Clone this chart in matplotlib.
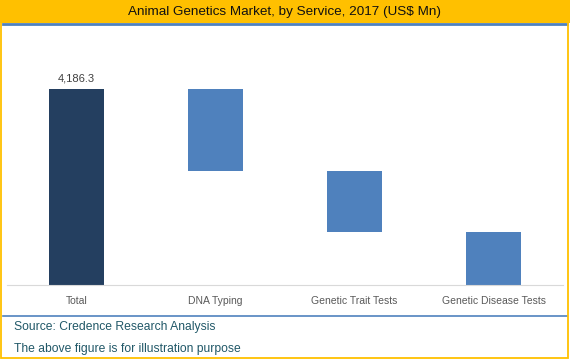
import matplotlib.pyplot as plt
from matplotlib.patches import Rectangle
from matplotlib.lines import Line2D

# data
categories = ['Total', 'DNA Typing', 'Genetic Trait Tests', 'Genetic Disease Tests']
total = 4186.3
segments = [1745.0, 1303.0, 1138.3]

plt.rcParams['font.family'] = ['Liberation Sans', 'DejaVu Sans']

W, H = 570, 359
fig = plt.figure(figsize=(W / 100, H / 100), dpi=100)

def fy(py):
    return 1 - py / H

# header bar
fig.patches.append(Rectangle((0, fy(23)), 1, 23 / H, transform=fig.transFigure,
                             facecolor='#FFC000', edgecolor='none', zorder=0))
fig.lines.append(Line2D([0.005, 0.995], [fy(24), fy(24)], transform=fig.transFigure,
                        color='#4F81BD', lw=2))
fig.text(0.5, fy(12), 'Animal Genetics Market, by Service, 2017 (US$ Mn)',
         ha='center', va='center', fontsize=9.7, color='#111111')
# outer border
fig.patches.append(Rectangle((0.002, 0.003), 0.995, 0.994, transform=fig.transFigure,
                             facecolor='none', edgecolor='#FFC000', lw=1.3, zorder=5))
# footer
fig.lines.append(Line2D([0.005, 0.995], [fy(316), fy(316)], transform=fig.transFigure,
                        color='#4F81BD', lw=1.2))
fig.text(14 / W, fy(327), 'Source: Credence Research Analysis', ha='left', va='center',
         fontsize=8.7, color='#215868')
fig.text(14 / W, fy(349), 'The above figure is for illustration purpose', ha='left',
         va='center', fontsize=8.7, color='#215868')

ax = fig.add_axes([7 / W, fy(285), 556 / W, 234 / H])

heights = [total] + segments
bottoms = [0]
level = total
for s in segments:
    level -= s
    bottoms.append(level)
colors = ['#243F60'] + ['#4F81BD'] * len(segments)
x = range(len(categories))
ax.bar(x, heights, bottom=bottoms, width=0.4, color=colors)
ax.text(0, total + 120, '{:,.1f}'.format(total), ha='center', va='bottom',
        fontsize=8, color='#404040')

ax.set_xlim(-0.5, 3.5)
ax.set_ylim(0, 5000)
ax.set_xticks(list(x))
ax.set_xticklabels(categories, fontsize=7.5, color='#595959')
ax.tick_params(axis='x', length=0, pad=8)
ax.set_yticks([])
for side in ['top', 'left', 'right']:
    ax.spines[side].set_visible(False)
ax.spines['bottom'].set_color('#D9D9D9')

fig.savefig('out.png', dpi=100)
